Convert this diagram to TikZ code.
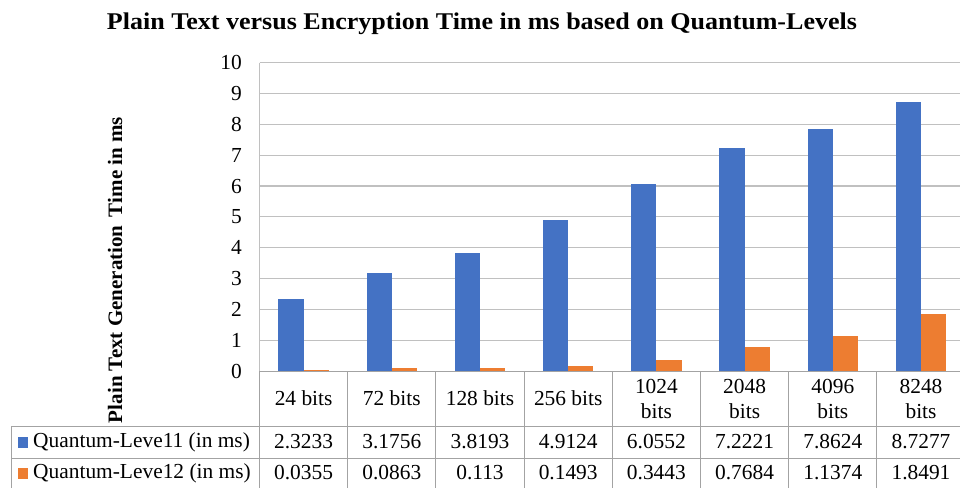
\documentclass[tikz,border=0pt]{standalone}
\usepackage{fontspec}
\setmainfont{Liberation Serif}
\usepackage{graphicx}
\definecolor{qblue}{HTML}{4472C4}
\definecolor{qorange}{HTML}{ED7D31}
\definecolor{gridc}{HTML}{C0C0C0}
\definecolor{tablec}{HTML}{A3A3A3}
\begin{document}
\begin{tikzpicture}[x=1pt,y=-1pt,
  gridline/.style={draw=gridc,line width=1.1pt},
  tabline/.style={draw=tablec,line width=1pt},
  txt/.style={font=\fontsize{21.4}{25}\selectfont,inner sep=0pt},
  ticklbl/.style={txt,anchor=east},
  cell/.style={txt,align=center,anchor=center}]
\useasboundingbox (0,0) rectangle (960,487);
\fill[white] (0,0) rectangle (960,487);
\clip (0,0) rectangle (960,487);
% plot geometry: zero line, unit height, category width
\def\xz{259.5}\def\yz{371}\def\uy{30.83}\def\cw{88.2}\def\bw{25.2}
% horizontal gridlines and value labels
\foreach \v in {1,...,10}
  \draw[gridline] (\xz,{\yz-\v*\uy}) -- (975,{\yz-\v*\uy});
\draw[gridline] (\xz,{\yz-10*\uy}) -- (\xz,\yz);
\foreach \v in {0,...,10}
  \node[ticklbl] (tick\v) at (242,{\yz-\v*\uy}) {\v};
% bars: level 1 (blue) and level 2 (orange)
\foreach \a/\b [count=\i from 0] in {2.3233/0.0355,3.1756/0.0863,3.8193/0.113,4.9124/0.1493,6.0552/0.3443,7.2221/0.7684,7.8624/1.1374,8.7277/1.8491}{
  \fill[qblue] ({\xz+\i*\cw+0.75*\bw},\yz) rectangle ++(\bw,{-\a*\uy});
  \fill[qorange] ({\xz+\i*\cw+1.75*\bw},\yz) rectangle ++(\bw,{-\b*\uy});
}
% data table under the axis
\draw[tabline] (\xz,\yz) -- (975,\yz);
\draw[tabline] (11,426) -- (975,426);
\draw[tabline] (11,458) -- (975,458);
\draw[tabline] (11,426) -- (11,495);
\foreach \k in {0,...,8}
  \draw[tabline] ({\xz+\k*\cw},\yz) -- ({\xz+\k*\cw},495);
\foreach \c/\r/\s [count=\i from 0] in {24 bits/2.3233/0.0355,72 bits/3.1756/0.0863,128 bits/3.8193/0.113,256 bits/4.9124/0.1493,1024\\bits/6.0552/0.3443,2048\\bits/7.2221/0.7684,4096\\bits/7.8624/1.1374,8248\\bits/8.7277/1.8491}{
  \node[cell] (cat\i) at ({\xz+(\i+0.5)*\cw},398.5) {\c};
  \node[cell] (ra\i) at ({\xz+(\i+0.5)*\cw},442) {\r};
  \node[cell] (rb\i) at ({\xz+(\i+0.5)*\cw},473) {\s};
}
% legend keys in the table
\fill[qblue] (17.5,437) rectangle (28,447.5);
\fill[qorange] (17.5,468) rectangle (28,478.5);
\node[txt,anchor=west] (leg1) at (33,442) {Quantum-Leve11 (in ms)};
\node[txt,anchor=west] (leg2) at (33,473) {Quantum-Leve12 (in ms)};
% titles
\node[inner sep=0pt,anchor=base] (title) at (482,30)
  {\resizebox{750pt}{\height}{\fontsize{24}{28}\selectfont\bfseries Plain Text versus Encryption Time in ms based on Quantum-Levels}};
\node[inner sep=0pt,anchor=base,rotate=90] (ylabel) at (122,270)
  {\resizebox{306pt}{\height}{\fontsize{20.5}{24}\selectfont\bfseries Plain Text Generation\hspace{3pt} Time in ms}};
\end{tikzpicture}
\end{document}
